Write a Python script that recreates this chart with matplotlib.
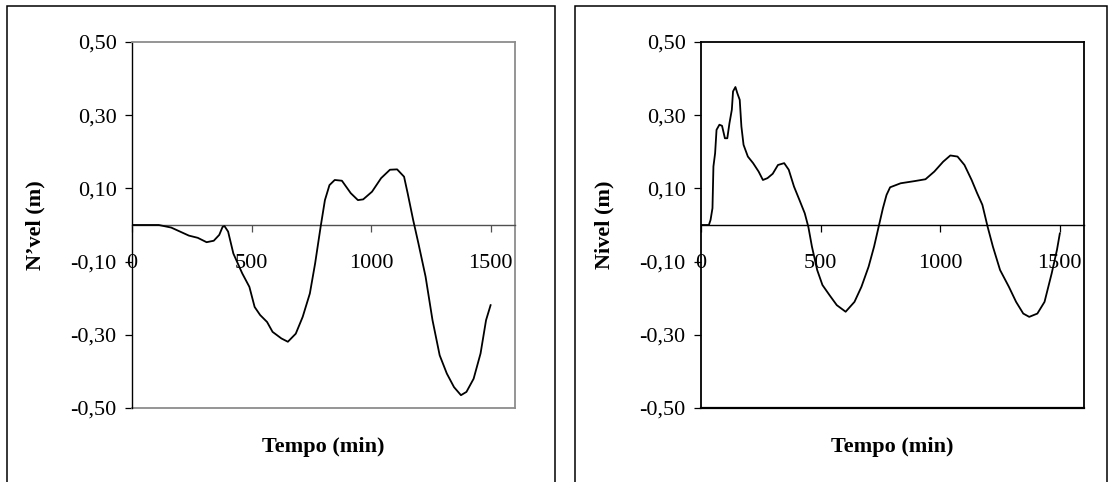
import matplotlib
matplotlib.use("Agg")
import matplotlib.pyplot as plt
from matplotlib.patches import Rectangle
from matplotlib.lines import Line2D

# ---- data ----
t_left = [0, 112, 164, 238, 275, 312, 342, 365, 379, 387, 402, 424, 461, 491, 513, 536,
          565, 588, 625, 652, 685, 714, 744, 766, 789, 807, 826, 848, 878, 915, 945,
          967, 1004, 1042, 1079, 1109, 1138, 1153, 1176, 1198, 1228, 1257, 1287, 1317,
          1347, 1376, 1399, 1429, 1458, 1481, 1500]
v_left = [0.0, 0.0, -0.007, -0.029, -0.035, -0.047, -0.043, -0.027, -0.005, -0.003,
          -0.018, -0.078, -0.132, -0.169, -0.224, -0.246, -0.265, -0.292, -0.310,
          -0.319, -0.297, -0.251, -0.187, -0.105, -0.005, 0.068, 0.109, 0.123, 0.121,
          0.087, 0.068, 0.070, 0.091, 0.128, 0.151, 0.152, 0.132, 0.087, 0.014, -0.050,
          -0.141, -0.260, -0.356, -0.406, -0.443, -0.465, -0.456, -0.420, -0.351,
          -0.260, -0.219]

t_right = [0, 33, 40, 48, 52, 59, 65, 77, 88, 100, 110, 119, 129, 134, 144, 152, 162,
           169, 178, 196, 218, 241, 259, 278, 300, 322, 348, 367, 389, 412, 434, 449,
           464, 486, 508, 538, 568, 605, 642, 671, 701, 724, 743, 761, 776, 791, 835,
           894, 939, 976, 1013, 1043, 1073, 1102, 1132, 1155, 1177, 1199, 1221, 1251,
           1288, 1318, 1348, 1373, 1407, 1437, 1467, 1489, 1501]
v_right = [0.0, 0.0, 0.014, 0.046, 0.160, 0.196, 0.260, 0.274, 0.271, 0.237, 0.237,
           0.278, 0.315, 0.365, 0.377, 0.360, 0.342, 0.269, 0.219, 0.187, 0.169, 0.146,
           0.123, 0.128, 0.140, 0.164, 0.169, 0.151, 0.105, 0.068, 0.032, -0.005,
           -0.059, -0.123, -0.164, -0.192, -0.219, -0.237, -0.210, -0.169, -0.114,
           -0.059, -0.005, 0.046, 0.082, 0.103, 0.114, 0.120, 0.125, 0.146, 0.173,
           0.190, 0.187, 0.164, 0.123, 0.087, 0.055, -0.005, -0.059, -0.123, -0.169,
           -0.210, -0.242, -0.251, -0.242, -0.210, -0.132, -0.068, -0.023]

xticks = [0, 500, 1000, 1500]
xtick_labels = ["0", "500", "1000", "1500"]
yticks = [-0.5, -0.3, -0.1, 0.1, 0.3, 0.5]
ytick_labels = ["-0,50", "-0,30", "-0,10", "0,10", "0,30", "0,50"]
ylabels = ["N\u2019vel (m)", "Nivel (m)"]
xlabel = "Tempo (min)"

# ---- figure ----
W, H = 1115, 482
fig = plt.figure(figsize=(W / 100, H / 100), dpi=100)
plt.rcParams['font.family'] = ['Liberation Serif', 'DejaVu Serif']

def px_rect(x0, y0, x1, y1):
    return [x0 / W, 1 - y1 / H, (x1 - x0) / W, (y1 - y0) / H]

# outer frames
for (x0, x1) in [(7, 555), (575, 1107)]:
    fig.patches.append(Rectangle((x0 / W, -0.05), (x1 - x0) / W, 1 - 5.5 / H + 0.05,
                                 transform=fig.transFigure, fill=False,
                                 edgecolor='black', linewidth=1.1))

axes_specs = [
    (px_rect(132, 42, 514.5, 408), t_left, v_left, '#8c8c8c', '#505050'),
    (px_rect(701, 42, 1083.5, 408), t_right, v_right, 'black', 'black'),
]

for i, (rect, t, v, boxc, zeroc) in enumerate(axes_specs):
    ax = fig.add_axes(rect)
    ax.plot(t, v, color='black', linewidth=1.3, zorder=3)
    ax.set_xlim(0, 1600)
    ax.set_ylim(-0.5, 0.5)
    ax.spines['left'].set_color('black')
    ax.spines['left'].set_linewidth(1.0 if i == 0 else 1.3)
    for s in ['top', 'right']:
        ax.spines[s].set_color(boxc)
        ax.spines[s].set_linewidth(1.3)
    ax.spines['bottom'].set_position(('data', 0))
    ax.spines['bottom'].set_color(zeroc)
    ax.spines['bottom'].set_linewidth(1.0)
    ax.add_line(Line2D([0, 1], [0, 0], transform=ax.transAxes, color=boxc,
                       linewidth=1.3 if i == 0 else 1.6, clip_on=False))
    ax.set_xticks(xticks, xtick_labels)
    ax.set_yticks(yticks, ytick_labels)
    ax.tick_params(axis='both', direction='out', length=5, width=0.9,
                   labelsize=16, colors='black')
    ax.tick_params(axis='x', pad=16, color=zeroc)
    ax.tick_params(axis='y', pad=6)
    ax.set_ylabel(ylabels[i], fontsize=16, fontweight='bold')
    ax.yaxis.set_label_coords(-0.225, 0.5)
    ax.set_xlabel(xlabel, fontsize=16, fontweight='bold', va='center')
    ax.xaxis.set_label_coords(0.5, -0.107)

fig.savefig('out.png', dpi=100)
